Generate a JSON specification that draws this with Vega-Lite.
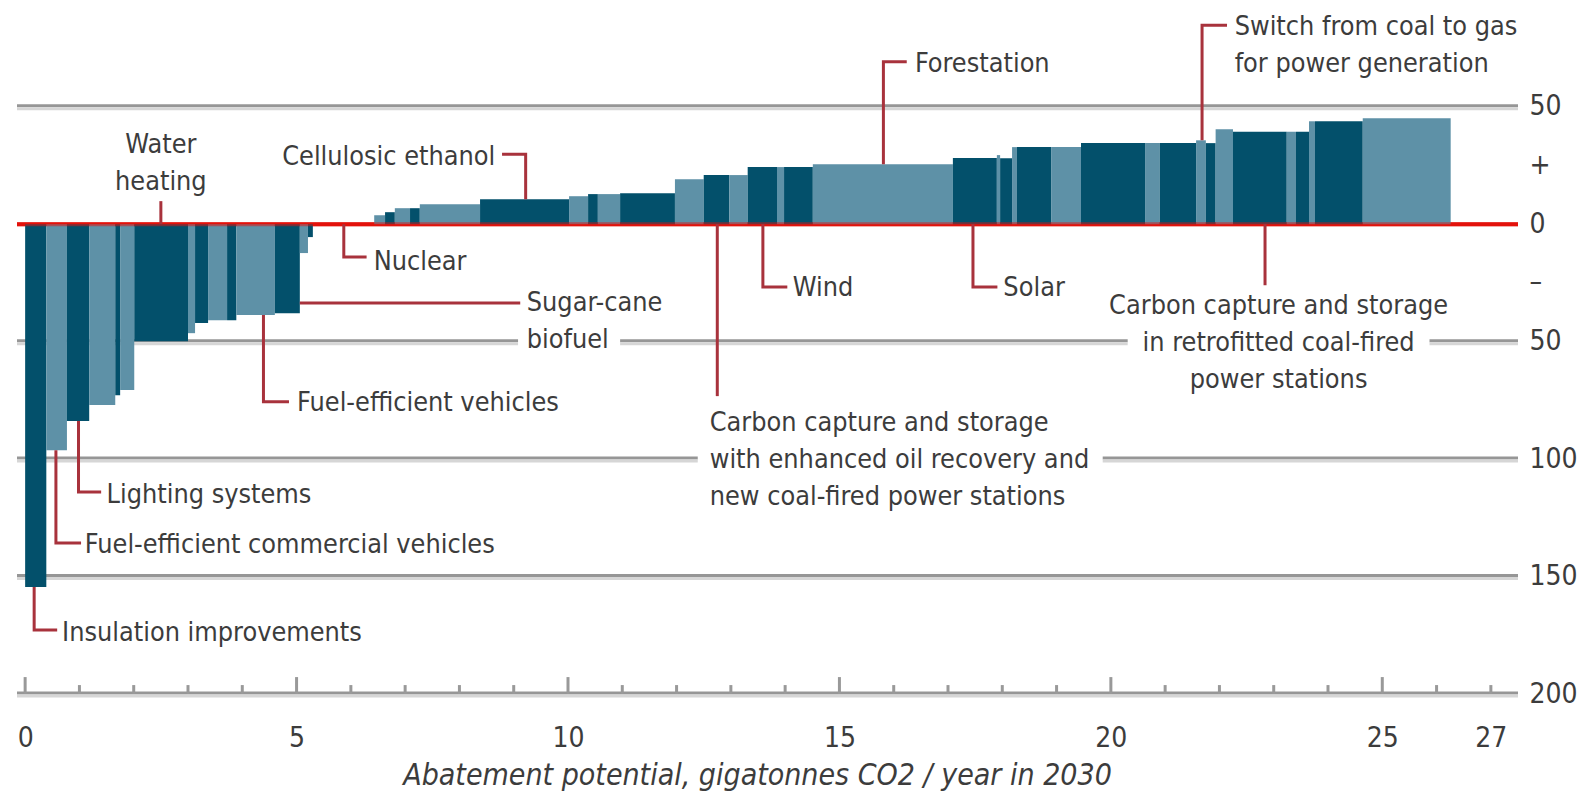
{
  "$schema": "https://vega.github.io/schema/vega-lite/v6.json",
  "width": 1501,
  "height": 693,
  "autosize": {"type": "none"},
  "padding": {"left": 17, "top": 1, "right": 66, "bottom": 103},
  "background": "white",
  "config": {
    "view": {"stroke": null},
    "font": "DejaVu Sans Condensed, DejaVu Sans, sans-serif",
    "text": {"font": "DejaVu Sans Condensed, DejaVu Sans, sans-serif", "fontSize": 26.8, "color": "#3c3c3c", "baseline": "alphabetic", "lineHeight": 37}
  },
  "datasets": {
    "grid": [
      {"x": -0.15, "x2": 27.5, "y": 50},
      {"x": -0.15, "x2": 9.08, "y": -50},
      {"x": 10.96, "x2": 20.31, "y": -50},
      {"x": 25.87, "x2": 27.5, "y": -50},
      {"x": -0.15, "x2": 12.39, "y": -100},
      {"x": 19.85, "x2": 27.5, "y": -100},
      {"x": -0.15, "x2": 27.5, "y": -150},
      {"x": -0.15, "x2": 27.5, "y": -200}
    ],
    "bars": [
      {"x": 0.0, "x2": 0.39, "y": -154.5, "band": "dark"},
      {"x": 0.39, "x2": 0.77, "y": -96.2, "band": "light"},
      {"x": 0.77, "x2": 1.18, "y": -83.8, "band": "dark"},
      {"x": 1.18, "x2": 1.66, "y": -77.0, "band": "light"},
      {"x": 1.66, "x2": 1.75, "y": -72.8, "band": "dark"},
      {"x": 1.75, "x2": 2.01, "y": -70.6, "band": "light"},
      {"x": 2.01, "x2": 3.0, "y": -49.8, "band": "dark"},
      {"x": 3.0, "x2": 3.13, "y": -46.4, "band": "light"},
      {"x": 3.13, "x2": 3.37, "y": -42.1, "band": "dark"},
      {"x": 3.37, "x2": 3.72, "y": -40.9, "band": "light"},
      {"x": 3.72, "x2": 3.89, "y": -40.9, "band": "dark"},
      {"x": 3.89, "x2": 4.6, "y": -38.7, "band": "light"},
      {"x": 4.6, "x2": 5.06, "y": -37.9, "band": "dark"},
      {"x": 5.06, "x2": 5.21, "y": -12.3, "band": "light"},
      {"x": 5.21, "x2": 5.3, "y": -5.5, "band": "dark"},
      {"x": 6.43, "x2": 6.63, "y": 3.8, "band": "light"},
      {"x": 6.63, "x2": 6.81, "y": 5.1, "band": "dark"},
      {"x": 6.81, "x2": 7.09, "y": 6.8, "band": "light"},
      {"x": 7.09, "x2": 7.27, "y": 6.8, "band": "dark"},
      {"x": 7.27, "x2": 8.38, "y": 8.5, "band": "light"},
      {"x": 8.38, "x2": 10.02, "y": 10.6, "band": "dark"},
      {"x": 10.02, "x2": 10.37, "y": 11.9, "band": "light"},
      {"x": 10.37, "x2": 10.55, "y": 12.8, "band": "dark"},
      {"x": 10.55, "x2": 10.96, "y": 12.8, "band": "light"},
      {"x": 10.96, "x2": 11.97, "y": 13.2, "band": "dark"},
      {"x": 11.97, "x2": 12.5, "y": 19.1, "band": "light"},
      {"x": 12.5, "x2": 12.97, "y": 20.9, "band": "dark"},
      {"x": 12.97, "x2": 13.31, "y": 20.9, "band": "light"},
      {"x": 13.31, "x2": 13.85, "y": 24.3, "band": "dark"},
      {"x": 13.85, "x2": 13.98, "y": 24.3, "band": "light"},
      {"x": 13.98, "x2": 14.51, "y": 24.3, "band": "dark"},
      {"x": 14.51, "x2": 17.09, "y": 25.5, "band": "light"},
      {"x": 17.09, "x2": 17.9, "y": 28.2, "band": "dark"},
      {"x": 17.9, "x2": 17.96, "y": 29.4, "band": "light"},
      {"x": 17.96, "x2": 18.18, "y": 28.1, "band": "dark"},
      {"x": 18.18, "x2": 18.27, "y": 32.8, "band": "light"},
      {"x": 18.27, "x2": 18.9, "y": 32.8, "band": "dark"},
      {"x": 18.9, "x2": 19.45, "y": 32.8, "band": "light"},
      {"x": 19.45, "x2": 20.63, "y": 34.5, "band": "dark"},
      {"x": 20.63, "x2": 20.9, "y": 34.5, "band": "light"},
      {"x": 20.9, "x2": 21.57, "y": 34.5, "band": "dark"},
      {"x": 21.57, "x2": 21.75, "y": 35.7, "band": "light"},
      {"x": 21.75, "x2": 21.93, "y": 34.5, "band": "dark"},
      {"x": 21.93, "x2": 22.25, "y": 40.4, "band": "light"},
      {"x": 22.25, "x2": 23.24, "y": 39.3, "band": "dark"},
      {"x": 23.24, "x2": 23.41, "y": 39.3, "band": "light"},
      {"x": 23.41, "x2": 23.65, "y": 39.3, "band": "dark"},
      {"x": 23.65, "x2": 23.76, "y": 43.8, "band": "light"},
      {"x": 23.76, "x2": 24.64, "y": 43.8, "band": "dark"},
      {"x": 24.64, "x2": 26.26, "y": 45.1, "band": "light"}
    ],
    "majorTicks": [{"x": 0}, {"x": 5}, {"x": 10}, {"x": 15}, {"x": 20}, {"x": 25}],
    "minorTicks": [
      {"x": 1}, {"x": 2}, {"x": 3}, {"x": 4}, {"x": 6}, {"x": 7}, {"x": 8}, {"x": 9},
      {"x": 11}, {"x": 12}, {"x": 13}, {"x": 14}, {"x": 16}, {"x": 17}, {"x": 18}, {"x": 19},
      {"x": 21}, {"x": 22}, {"x": 23}, {"x": 24}, {"x": 26}, {"x": 27}
    ],
    "leaders": [
      {"id": "insulation", "o": 1, "x": 0.166, "y": -154.5},
      {"id": "insulation", "o": 2, "x": 0.166, "y": -172.8},
      {"id": "insulation", "o": 3, "x": 0.59, "y": -172.8},
      {"id": "fecv", "o": 1, "x": 0.567, "y": -96.2},
      {"id": "fecv", "o": 2, "x": 0.567, "y": -135.7},
      {"id": "fecv", "o": 3, "x": 1.03, "y": -135.7},
      {"id": "lighting", "o": 1, "x": 0.983, "y": -83.8},
      {"id": "lighting", "o": 2, "x": 0.983, "y": -114.0},
      {"id": "lighting", "o": 3, "x": 1.4, "y": -114.0},
      {"id": "water", "o": 1, "x": 2.5, "y": 0},
      {"id": "water", "o": 2, "x": 2.5, "y": 9.8},
      {"id": "cellulosic", "o": 1, "x": 8.785, "y": 29.8},
      {"id": "cellulosic", "o": 2, "x": 9.22, "y": 29.8},
      {"id": "cellulosic", "o": 3, "x": 9.22, "y": 10.6},
      {"id": "nuclear", "o": 1, "x": 5.87, "y": 0},
      {"id": "nuclear", "o": 2, "x": 5.87, "y": -14.0},
      {"id": "nuclear", "o": 3, "x": 6.29, "y": -14.0},
      {"id": "sugar", "o": 1, "x": 5.06, "y": -33.6},
      {"id": "sugar", "o": 2, "x": 9.12, "y": -33.6},
      {"id": "fev", "o": 1, "x": 4.39, "y": -38.7},
      {"id": "fev", "o": 2, "x": 4.39, "y": -75.6},
      {"id": "fev", "o": 3, "x": 4.86, "y": -75.6},
      {"id": "ccseor", "o": 1, "x": 12.75, "y": 0},
      {"id": "ccseor", "o": 2, "x": 12.75, "y": -73.2},
      {"id": "wind", "o": 1, "x": 13.59, "y": 0},
      {"id": "wind", "o": 2, "x": 13.59, "y": -26.7},
      {"id": "wind", "o": 3, "x": 14.04, "y": -26.7},
      {"id": "solar", "o": 1, "x": 17.46, "y": 0},
      {"id": "solar", "o": 2, "x": 17.46, "y": -26.7},
      {"id": "solar", "o": 3, "x": 17.91, "y": -26.7},
      {"id": "forest", "o": 1, "x": 15.81, "y": 25.5},
      {"id": "forest", "o": 2, "x": 15.81, "y": 69.1},
      {"id": "forest", "o": 3, "x": 16.24, "y": 69.1},
      {"id": "switch", "o": 1, "x": 21.68, "y": 35.7},
      {"id": "switch", "o": 2, "x": 21.68, "y": 84.7},
      {"id": "switch", "o": 3, "x": 22.14, "y": 84.7},
      {"id": "ccsretro", "o": 1, "x": 22.84, "y": 0},
      {"id": "ccsretro", "o": 2, "x": 22.84, "y": -26.0}
    ],
    "labelsLeft": [
      {"t": "Insulation improvements", "x": 0.68, "y": -177.3},
      {"t": "Fuel-efficient commercial vehicles", "x": 1.1, "y": -139.9},
      {"t": "Lighting systems", "x": 1.5, "y": -118.6},
      {"t": "Nuclear", "x": 6.42, "y": -19.3},
      {"t": "Sugar-cane\nbiofuel", "x": 9.24, "y": -36.9},
      {"t": "Fuel-efficient vehicles", "x": 5.01, "y": -79.4},
      {"t": "Carbon capture and storage\nwith enhanced oil recovery and\nnew coal-fired power stations", "x": 12.61, "y": -87.9},
      {"t": "Wind", "x": 14.14, "y": -30.5},
      {"t": "Solar", "x": 18.02, "y": -30.5},
      {"t": "Forestation", "x": 16.39, "y": 64.8},
      {"t": "Switch from coal to gas\nfor power generation", "x": 22.28, "y": 80.6}
    ],
    "labelsCenter": [
      {"t": "Water\nheating", "x": 2.5, "y": 30.4},
      {"t": "Carbon capture and storage\nin retrofitted coal-fired\npower stations", "x": 23.09, "y": -38.1}
    ],
    "labelsRight": [
      {"t": "Cellulosic ethanol", "x": 8.66, "y": 25.4}
    ]
  },
  "layer": [
    {
      "data": {"name": "grid"},
      "mark": {"type": "rule", "color": "#969696", "strokeWidth": 3, "yOffset": -1},
      "encoding": {
        "x": {
          "field": "x", "type": "quantitative",
          "scale": {"domain": [-0.15, 27.5], "nice": false, "zero": false},
          "title": "Abatement potential, gigatonnes CO2 / year in 2030",
          "axis": {
            "values": [0, 5, 10, 15, 20, 25, 27],
            "domain": false, "ticks": false, "grid": false,
            "labelPadding": 30, "labelFontSize": 28, "labelColor": "#3c3c3c",
            "labelFont": "DejaVu Sans Condensed, DejaVu Sans, sans-serif",
            "labelFlush": false, "labelOverlap": false,
            "titleFont": "DejaVu Sans Condensed, DejaVu Sans, sans-serif",
            "titleFontSize": 30, "titleFontStyle": "italic", "titleFontWeight": "normal",
            "titleColor": "#3c3c3c", "titlePadding": 8,
            "titleX": 740, "titleAlign": "center", "titleAnchor": "middle"
          }
        },
        "x2": {"field": "x2"},
        "y": {
          "field": "y", "type": "quantitative",
          "scale": {"domain": [-200, 95], "nice": false, "zero": false},
          "title": null,
          "axis": {
            "orient": "right",
            "values": [50, 25, 0, -25, -50, -100, -150, -200],
            "labelExpr": "datum.value == 25 ? '+' : (datum.value == -25 ? '–' : format(abs(datum.value), 'd'))",
            "domain": false, "ticks": false, "grid": false,
            "labelPadding": 11, "labelAlign": "left", "labelBaseline": "middle",
            "labelFontSize": 28, "labelColor": "#3c3c3c",
            "labelFont": "DejaVu Sans Condensed, DejaVu Sans, sans-serif",
            "labelFlush": false, "labelOverlap": false
          }
        }
      }
    },
    {
      "data": {"name": "grid"},
      "mark": {"type": "rule", "color": "#d6d6d6", "strokeWidth": 3, "yOffset": 2},
      "encoding": {
        "x": {"field": "x", "type": "quantitative"},
        "x2": {"field": "x2"},
        "y": {"field": "y", "type": "quantitative"}
      }
    },
    {
      "data": {"values": [{}]},
      "mark": {"type": "rule", "color": "#e3120b", "strokeWidth": 4},
      "encoding": {
        "x": {"datum": -0.15, "type": "quantitative"},
        "x2": {"datum": 27.5},
        "y": {"datum": 0, "type": "quantitative"}
      }
    },
    {
      "data": {"name": "bars"},
      "mark": {"type": "rect"},
      "encoding": {
        "x": {"field": "x", "type": "quantitative"},
        "x2": {"field": "x2"},
        "y": {"field": "y", "type": "quantitative"},
        "y2": {"datum": 0},
        "color": {"field": "band", "type": "nominal", "scale": {"domain": ["dark", "light"], "range": ["#03506b", "#5e91a7"]}, "legend": null}
      }
    },
    {
      "data": {"values": [{}]},
      "mark": {"type": "rule", "color": "#e3120b", "strokeWidth": 4, "opacity": 0.5},
      "encoding": {
        "x": {"datum": -0.15, "type": "quantitative"},
        "x2": {"datum": 27.5},
        "y": {"datum": 0, "type": "quantitative"}
      }
    },
    {
      "data": {"name": "majorTicks"},
      "mark": {"type": "rule", "color": "#999999", "strokeWidth": 3},
      "encoding": {
        "x": {"field": "x", "type": "quantitative"},
        "y": {"datum": -200, "type": "quantitative"},
        "y2": {"datum": -192.8}
      }
    },
    {
      "data": {"name": "minorTicks"},
      "mark": {"type": "rule", "color": "#999999", "strokeWidth": 3},
      "encoding": {
        "x": {"field": "x", "type": "quantitative"},
        "y": {"datum": -200, "type": "quantitative"},
        "y2": {"datum": -196.2}
      }
    },
    {
      "data": {"name": "leaders"},
      "mark": {"type": "line", "color": "#a8323c", "strokeWidth": 3, "strokeJoin": "miter", "strokeCap": "butt"},
      "encoding": {
        "x": {"field": "x", "type": "quantitative"},
        "y": {"field": "y", "type": "quantitative"},
        "detail": {"field": "id", "type": "nominal"},
        "order": {"field": "o", "type": "quantitative"}
      }
    },
    {
      "data": {"name": "labelsLeft"},
      "mark": {"type": "text", "align": "left", "lineBreak": "\n"},
      "encoding": {
        "x": {"field": "x", "type": "quantitative"},
        "y": {"field": "y", "type": "quantitative"},
        "text": {"field": "t", "type": "nominal"}
      }
    },
    {
      "data": {"name": "labelsCenter"},
      "mark": {"type": "text", "align": "center", "lineBreak": "\n"},
      "encoding": {
        "x": {"field": "x", "type": "quantitative"},
        "y": {"field": "y", "type": "quantitative"},
        "text": {"field": "t", "type": "nominal"}
      }
    },
    {
      "data": {"name": "labelsRight"},
      "mark": {"type": "text", "align": "right", "lineBreak": "\n"},
      "encoding": {
        "x": {"field": "x", "type": "quantitative"},
        "y": {"field": "y", "type": "quantitative"},
        "text": {"field": "t", "type": "nominal"}
      }
    }
  ]
}
